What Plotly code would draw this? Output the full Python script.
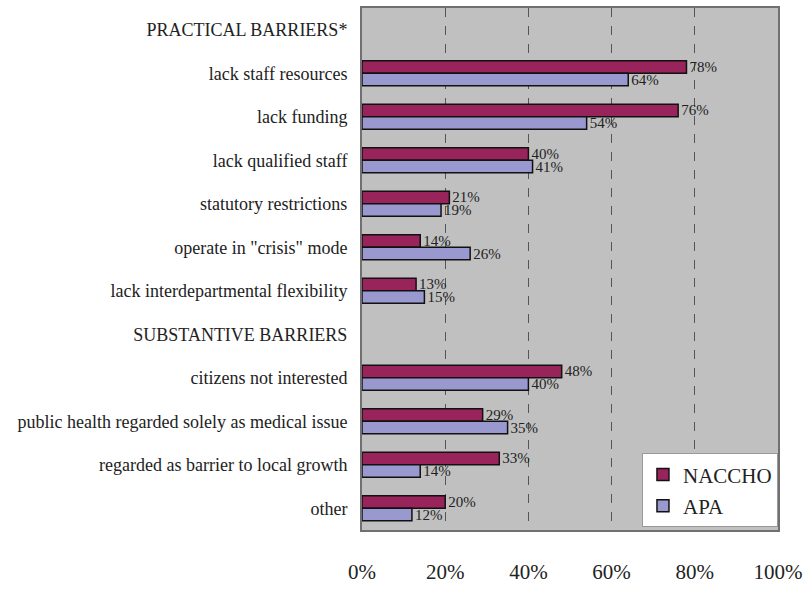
import plotly.graph_objects as go

categories = [
    "PRACTICAL BARRIERS*",
    "lack staff resources",
    "lack funding",
    "lack qualified staff",
    "statutory restrictions",
    "operate in \"crisis\" mode",
    "lack interdepartmental flexibility",
    "SUBSTANTIVE BARRIERS",
    "citizens not interested",
    "public health regarded solely as medical issue",
    "regarded as barrier to local growth",
    "other",
]
naccho = [None, 78, 76, 40, 21, 14, 13, None, 48, 29, 33, 20]
apa = [None, 64, 54, 41, 19, 26, 15, None, 40, 35, 14, 12]
x_ticks = [0, 20, 40, 60, 80, 100]
x_tick_labels = ["0%", "20%", "40%", "60%", "80%", "100%"]

serif = "Liberation Serif"


def pct(vals):
    return ["" if v is None else f"{v}%" for v in vals]


fig = go.Figure()
fig.add_trace(go.Bar(
    name="NACCHO", y=categories, x=naccho, orientation="h",
    legendgroup="naccho",
    marker=dict(color="#99235B", line=dict(color="#111111", width=1.5)),
    text=pct(naccho), textposition="outside", cliponaxis=False,
    constraintext="none",
    textfont=dict(family=serif, size=15, color="#222222"),
))
fig.add_trace(go.Bar(
    name="APA", y=categories, x=apa, orientation="h",
    legendgroup="apa",
    marker=dict(color="#9999CF", line=dict(color="#111111", width=1.5)),
    text=pct(apa), textposition="outside", cliponaxis=False,
    constraintext="none",
    textfont=dict(family=serif, size=15, color="#222222"),
))

fig.update_layout(
    width=809, height=590,
    margin=dict(l=362, r=27, t=6, b=49),
    paper_bgcolor="white",
    plot_bgcolor="#C0C0C0",
    barmode="group",
    bargap=0.42,
    bargroupgap=0.0,
    font=dict(family=serif, color="#222222"),
    xaxis=dict(
        range=[0, 100], tickvals=x_ticks, ticktext=x_tick_labels,
        showgrid=True, gridcolor="#555555", griddash="dash", gridwidth=1,
        zeroline=False, showline=True, mirror=True, linecolor="#707070", linewidth=2,
        tickfont=dict(family=serif, size=21, color="#222222"),
        ticklabelstandoff=22,
    ),
    yaxis=dict(
        autorange="reversed", showgrid=False, zeroline=False,
        showline=True, mirror=True, linecolor="#707070", linewidth=2,
        tickfont=dict(family=serif, size=18, color="#222222"),
        ticklabelstandoff=9,
    ),
    legend=dict(
        x=0.673, y=0.147, xanchor="left", yanchor="top",
        bgcolor="white", bordercolor="#999999", borderwidth=1,
        font=dict(family=serif, size=21, color="#222222"),
        traceorder="grouped", tracegroupgap=1,
        itemwidth=30,
    ),
)

fig.write_html("out.html")
